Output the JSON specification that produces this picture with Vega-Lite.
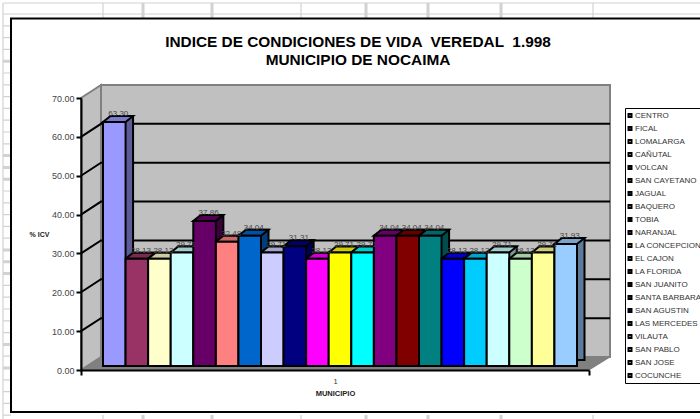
{
"$schema":"https://vega.github.io/schema/vega-lite/v6.json",
"autosize":{"type":"none"},
"padding":{"left":81,"top":98,"right":111,"bottom":49},
"width":508,"height":272,
"background":"white",
"title":{"text":["INDICE DE CONDICIONES DE VIDA \u00a0VEREDAL \u00a01.998","MUNICIPIO DE NOCAIMA"],"font":"Liberation Sans","fontSize":15.4,"fontWeight":"bold","color":"black","lineHeight":18,"anchor":"middle","frame":"group","offset":-71,"dx":23},
"config":{"view":{"stroke":null},"axisY":{"labelOverlap":false,"tickCount":8},"legend":{"symbolStrokeColor":"black"}},
"datasets":{
"vacio":[{"parte":"fondo"}],
"lineas":[{"v":10},{"v":20},{"v":30},{"v":40},{"v":50},{"v":60}],
"barras":[
{"municipio":"CENTRO","icv":63.30},
{"municipio":"FICAL","icv":28.13},
{"municipio":"LOMALARGA","icv":28.13},
{"municipio":"CAÑUTAL","icv":29.71},
{"municipio":"VOLCAN","icv":37.86},
{"municipio":"SAN CAYETANO","icv":32.48},
{"municipio":"JAGUAL","icv":34.04},
{"municipio":"BAQUERO","icv":29.71},
{"municipio":"TOBIA","icv":31.31},
{"municipio":"NARANJAL","icv":28.13},
{"municipio":"LA CONCEPCION","icv":29.71},
{"municipio":"EL CAJON","icv":29.71},
{"municipio":"LA FLORIDA","icv":34.04},
{"municipio":"SAN JUANITO","icv":34.04},
{"municipio":"SANTA BARBARA","icv":34.04},
{"municipio":"SAN AGUSTIN","icv":28.13},
{"municipio":"LAS MERCEDES","icv":28.13},
{"municipio":"VILAUTA","icv":29.71},
{"municipio":"SAN PABLO","icv":28.13},
{"municipio":"SAN JOSE","icv":29.71},
{"municipio":"COCUNCHE","icv":31.93}
]},
"layer":[
{"data":{"name":"vacio"},
 "mark":{"type":"point","filled":false,"size":400,"opacity":1,"stroke":"#D2D2D2","strokeWidth":1.2,
 "shape":"M-7.8,-36.7L61.9,-36.7M-7.8,-35.6L61.9,-35.6M-7.8,-36.7L-7.8,4.9M2.2,-36.7L2.2,-35.2M22,-36.7L22,-35.2M51.2,-36.7L51.2,-35.2M2.2,4.5L2.2,4.9M22,4.5L22,4.9M51.2,4.5L51.2,4.9M-7.8,-34.42L-7,-34.42M-7.8,-33.24L-7,-33.24M-7.8,-32.06L-7,-32.06M-7.8,-29.7L-7,-29.7M-7.8,-28.52L-7,-28.52M-7.8,-27.34L-7,-27.34M-7.8,-26.16L-7,-26.16M-7.8,-24.98L-7,-24.98M-7.8,-23.8L-7,-23.8M-7.8,-22.62L-7,-22.62M-7.8,-17.9L-7,-17.9M-7.8,-16.72L-7,-16.72M-7.8,-15.54L-7,-15.54M-7.8,-14.36L-7,-14.36M-7.8,-13.18L-7,-13.18M-7.8,-8.46L-7,-8.46M-7.8,-7.28L-7,-7.28M-7.8,-6.1L-7,-6.1M-7.8,-4.92L-7,-4.92M-7.8,-3.74L-7,-3.74M-7.8,-1.38L-7,-1.38M-7.8,0.98L-7,0.98M-7.8,2.16L-7,2.16M-7.8,3.34L-7,3.34M-7.8,4.52L-7,4.52"},
 "encoding":{"x":{"datum":0,"type":"quantitative","scale":{"domain":[0,1]},"axis":null},
  "y":{"datum":0,"type":"quantitative","scale":{"domain":[0,70],"nice":false},"axis":{"values":[0,10,20,30,40,50,60,70],"labelOverlap":false,"format":".2f","zindex":1,"grid":false,"title":"% ICV","titleAngle":0,"titleFont":"Liberation Sans","titleFontSize":7,"titleFontWeight":"bold","titleColor":"#222","titleX":-42,"titleY":136,"titleAlign":"center","titleBaseline":"middle","labelFont":"Liberation Sans","labelFontSize":9,"labelColor":"#444","labelPadding":2,"domainColor":"black","domainWidth":2,"tickColor":"black","tickWidth":2,"tickSize":5}}}},
{"data":{"name":"vacio"},
 "mark":{"type":"point","filled":false,"size":400,"opacity":1,"stroke":"#D2D2D2","strokeWidth":3,
 "shape":"M6.2,-36.7L6.2,-35.2M13.1,-36.7L13.1,-35.2M28.5,-36.7L28.5,-35.2M34.7,-36.7L34.7,-35.2M42,-36.7L42,-35.2M6.2,4.5L6.2,4.9M13.1,4.5L13.1,4.9M28.5,4.5L28.5,4.9M34.7,4.5L34.7,4.9M42,4.5L42,4.9M-7.8,-30.88L-7,-30.88M-7.8,-21.44L-7,-21.44M-7.8,-20.26L-7,-20.26M-7.8,-19.08L-7,-19.08M-7.8,-12L-7,-12M-7.8,-10.82L-7,-10.82M-7.8,-9.64L-7,-9.64M-7.8,-2.56L-7,-2.56M-7.8,-0.2L-7,-0.2"},
 "encoding":{"x":{"datum":0,"type":"quantitative","scale":{"domain":[0,1]},"axis":null},"y":{"datum":0,"type":"quantitative"}}},
{"data":{"name":"vacio"},
 "mark":{"type":"point","filled":false,"size":400,"opacity":1,"stroke":"black","strokeWidth":2,
 "shape":"M61.9,-35.15L-7,-35.15L-7,4.2L61.9,4.2"},
 "encoding":{"x":{"datum":0,"type":"quantitative","scale":{"domain":[0,1]},"axis":null},"y":{"datum":0,"type":"quantitative"}}},
{"data":{"name":"vacio"},
 "mark":{"type":"point","filled":true,"size":400,"opacity":1,"fill":"#C0C0C0","stroke":"#808080","strokeWidth":2,
 "shape":"M2,-28.5L52.9,-28.5L52.9,-1.3L2,-1.3ZM0,0L2,-1.3L2,-28.5L0,-27.2Z"},
 "encoding":{"x":{"datum":0,"type":"quantitative","scale":{"domain":[0,1]},"axis":null},"y":{"datum":0,"type":"quantitative"}}},
{"data":{"name":"vacio"},
 "mark":{"type":"point","filled":true,"size":400,"opacity":1,"fill":"#808080","stroke":"#808080","strokeWidth":1,
 "shape":"M0,0L2,-1.3L52.9,-1.3L50.8,0Z"},
 "encoding":{"x":{"datum":0,"type":"quantitative","scale":{"domain":[0,1]},
   "axis":{"values":[0,0.5,1],"labelOverlap":false,"zindex":1,"labelExpr":"datum.value==0.5?'1':''","title":"MUNICIPIO","titleFont":"Liberation Sans","titleFontSize":7.5,"titleFontWeight":"bold","titleColor":"#222","titlePadding":5,"labelFont":"Liberation Sans","labelFontSize":7.5,"labelColor":"#333","labelPadding":2,"labelAngle":0,"grid":false,"domainColor":"black","domainWidth":2,"tickWidth":2,"tickSize":5,"tickColor":{"condition":{"test":"datum.value==0.5","value":"transparent"},"value":"black"}}},
  "y":{"datum":0,"type":"quantitative"}}},
{"data":{"name":"lineas"},
 "mark":{"type":"point","filled":false,"size":400,"opacity":1,"stroke":"black","strokeWidth":2,"shape":"M0,0L2,-1.3L52.9,-1.3"},
 "encoding":{"x":{"datum":0,"type":"quantitative","scale":{"domain":[0,1]},"axis":null},"y":{"field":"v","type":"quantitative"}}},
{"data":{"name":"barras"},
 "resolve":{"scale":{"color":"independent"}},
 "encoding":{"x":{"field":"municipio","type":"nominal","sort":null,"axis":null,"scale":{"range":[22,496],"paddingInner":0,"paddingOuter":0}}},
 "layer":[
 {"mark":{"type":"bar","stroke":"black","strokeWidth":2,"xOffset":7.5,"yOffset":-8,"y2Offset":-10},
  "encoding":{"y":{"field":"icv","type":"quantitative"},"y2":{"datum":0},
   "color":{"field":"municipio","type":"nominal","sort":null,"legend":null,"scale":{"range":["#5C5C99","#5C1F3D","#99997A","#7A9999","#3D003D","#994D4D","#003D7A","#7A7A99","#00004D","#990099","#999900","#009999","#4D004D","#4D0000","#004D4D","#000099","#007A99","#7A9999","#7A997A","#99995C","#5C7A99"]}}}},
 {"mark":{"type":"point","filled":true,"size":400,"opacity":1,"stroke":"black","strokeWidth":2,"yOffset":-2,"shape":"M-1.13,0L1.13,0L1.88,-0.6L-0.38,-0.6Z"},
  "encoding":{"y":{"field":"icv","type":"quantitative"},
   "color":{"field":"municipio","type":"nominal","sort":null,"legend":null,"scale":{"range":["#7A7ACC","#7A2952","#CCCCA3","#A3CCCC","#520052","#CC6666","#0052A3","#A3A3CC","#000066","#CC00CC","#CCCC00","#00CCCC","#660066","#660000","#006666","#0000CC","#00A3CC","#A3CCCC","#A3CCA3","#CCCC7A","#7AA3CC"]}}}},
 {"mark":{"type":"bar","stroke":"black","strokeWidth":2,"yOffset":-2,"y2Offset":-4},
  "encoding":{"y":{"field":"icv","type":"quantitative"},"y2":{"datum":0},
   "color":{"field":"municipio","type":"nominal","sort":null,"title":null,
    "scale":{"range":["#9999FF","#993366","#FFFFCC","#CCFFFF","#660066","#FF8080","#0066CC","#CCCCFF","#000080","#FF00FF","#FFFF00","#00FFFF","#800080","#800000","#008080","#0000FF","#00CCFF","#CCFFFF","#CCFFCC","#FFFF99","#99CCFF"]},
    "legend":{"orient":"none","legendX":544,"legendY":10,"fillColor":"white","strokeColor":"black","padding":1,"symbolType":"square","symbolSize":9,"symbolStrokeColor":"black","symbolStrokeWidth":2,"labelFont":"Liberation Sans","labelFontSize":8,"labelColor":"#333","labelLimit":200,"labelOffset":1,"rowPadding":0,"clipHeight":13,"columns":1}}}},
 {"mark":{"type":"text","font":"Liberation Sans","fontSize":8,"color":"#444","dx":4,"yOffset":-10},
  "encoding":{"y":{"field":"icv","type":"quantitative"},"text":{"field":"icv","type":"quantitative","format":".2f"}}}
 ]}
],
"resolve":{"scale":{"x":"independent"}}
}
